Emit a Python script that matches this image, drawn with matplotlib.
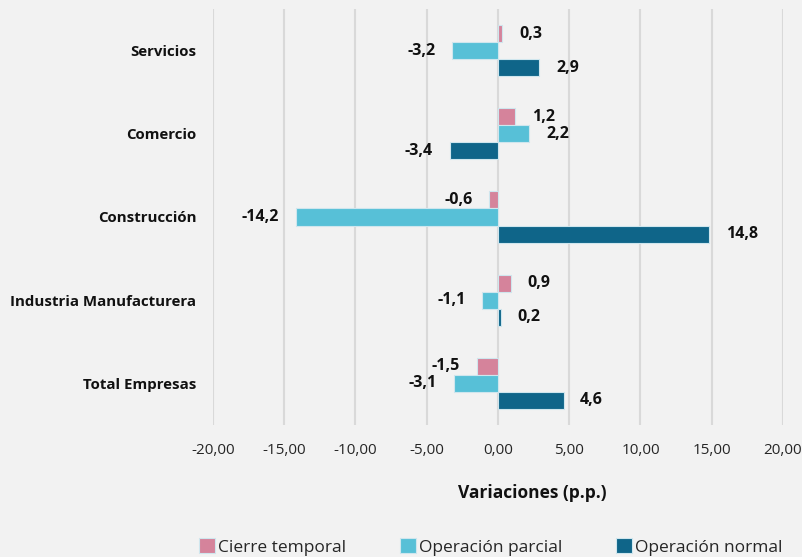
import numpy as np
import matplotlib.pyplot as plt

# data
categories = ['Servicios', 'Comercio', 'Construcción', 'Industria Manufacturera', 'Total Empresas']
cierre_temporal = [0.3, 1.2, -0.6, 0.9, -1.5]
operacion_parcial = [-3.2, 2.2, -14.2, -1.1, -3.1]
operacion_normal = [2.9, -3.4, 14.8, 0.2, 4.6]
series_names = ['Cierre temporal', 'Operación parcial', 'Operación normal']
x_ticks = [-20, -15, -10, -5, 0, 5, 10, 15, 20]

colors = ['#D5839B', '#57C0D7', '#0F6589']
bg = '#F2F2F2'

plt.rcParams['font.family'] = ['Open Sans', 'DejaVu Sans']

fig = plt.figure(figsize=(8.03, 5.57), dpi=100, facecolor=bg)
ax = fig.add_axes([213 / 803, 1 - 425 / 557, 570 / 803, 416 / 557])
ax.set_facecolor(bg)

y = np.arange(len(categories))
h = 0.205
series = [cierre_temporal, operacion_parcial, operacion_normal]
offsets = [-h, 0, h]

for vals, off, col, name in zip(series, offsets, colors, series_names):
    bars = ax.barh(y + off, vals, height=h, color=col, edgecolor='#cfe6ee',
                   linewidth=0.8, label=name, zorder=3)
    for b, v in zip(bars, vals):
        lbl = f'{v:.1f}'.replace('.', ',')
        ax.annotate(lbl, (v, b.get_y() + b.get_height() / 2),
                    xytext=(12 if v >= 0 else -12, 0), textcoords='offset points',
                    ha='left' if v >= 0 else 'right', va='center',
                    fontsize=11.5, fontweight='bold', color='#111111')

ax.set_ylim(len(categories) - 0.5, -0.5)
ax.set_xlim(-20, 20)
ax.set_xticks(x_ticks)
ax.set_xticklabels([f'{t:.2f}'.replace('.', ',') for t in x_ticks],
                   fontsize=11, color='#262626')
ax.set_yticks(y)
ax.set_yticklabels(categories, fontsize=10.8, fontweight='bold', color='#111111')
ax.tick_params(length=0, axis='x', pad=13)
ax.tick_params(length=0, axis='y', pad=12)
ax.grid(axis='x', color='#D9D9D9', linewidth=1.5, zorder=0)
for s in ax.spines.values():
    s.set_visible(False)

fig.text(532 / 803, 1 - 493 / 557, 'Variaciones (p.p.)', ha='center', va='center',
         fontsize=12.5, fontweight='bold', color='#111111')

fig.legend(loc='center', bbox_to_anchor=(491 / 803, 1 - 547 / 557), ncol=3,
           frameon=False, fontsize=12.5, handlelength=0.9, handleheight=0.9,
           handletextpad=0.2, columnspacing=3.1, labelcolor='#262626')

fig.savefig('out.png', dpi=100, facecolor=bg)
